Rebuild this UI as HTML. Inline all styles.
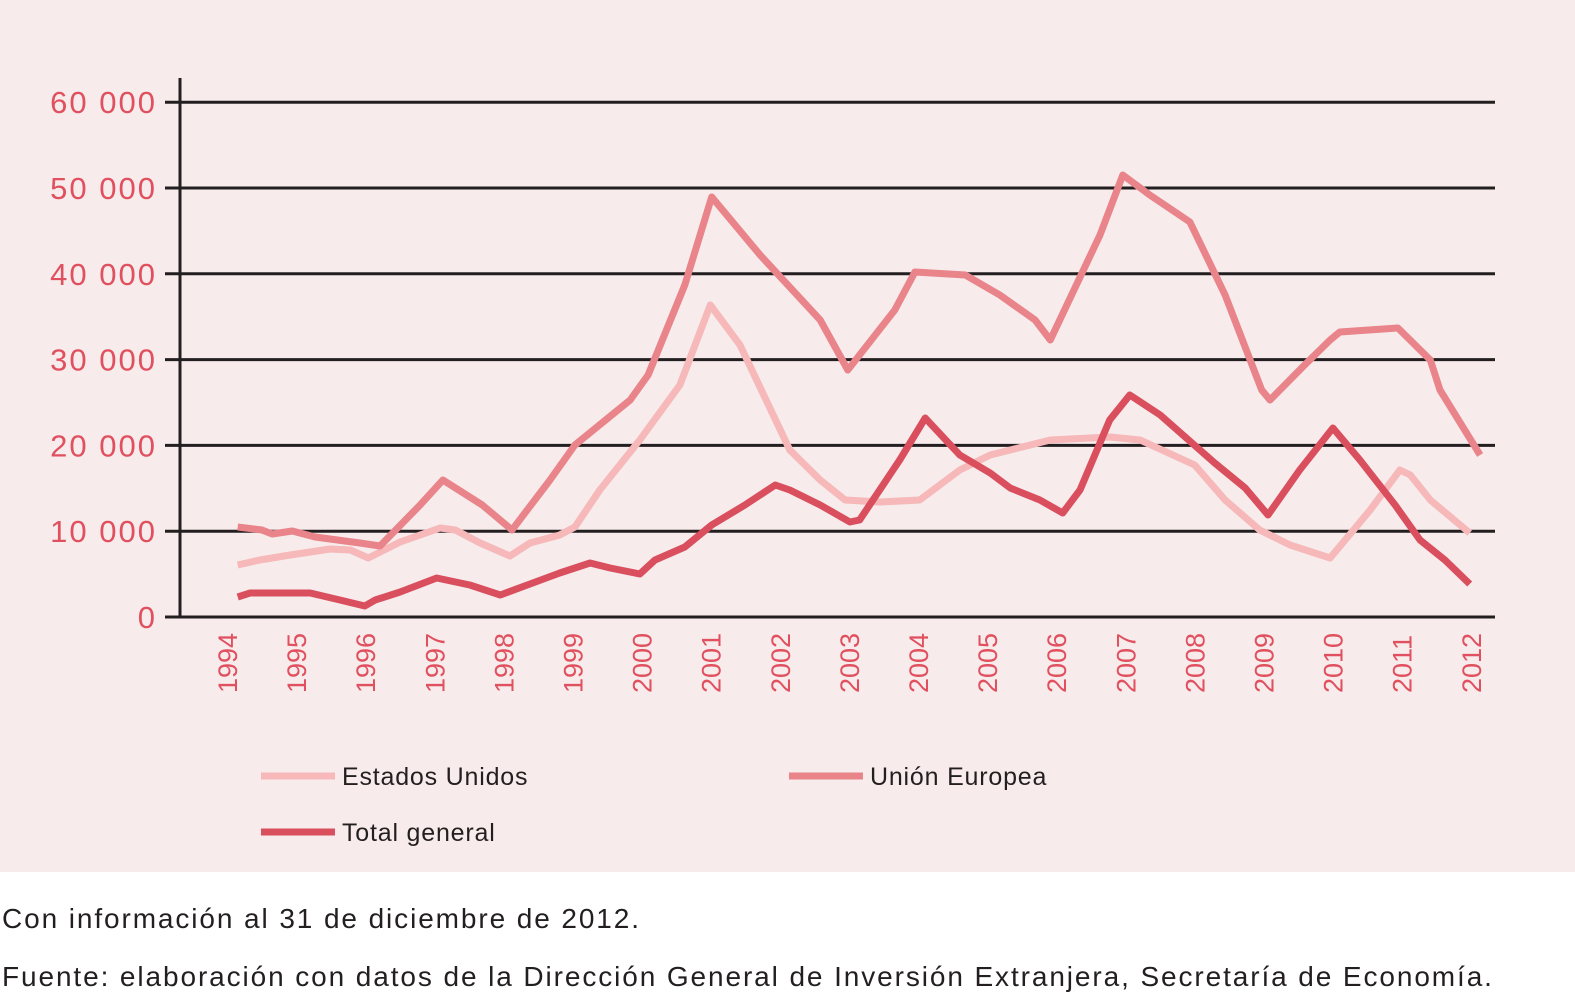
<!DOCTYPE html>
<html><head><meta charset="utf-8">
<style>
html,body{margin:0;padding:0;width:1575px;height:1000px;background:#fff;overflow:hidden;font-family:"Liberation Sans",sans-serif}
#bg{position:absolute;left:0;top:0;width:1575px;height:872px;background:#f7ebeb}
.note{position:absolute;left:2px;font-size:28px;letter-spacing:1.9px;color:#231f20}
</style></head><body>
<div id="bg"></div>
<svg id="chart" width="1575" height="872" style="position:absolute;left:0;top:0"></svg>
<div class="note" style="top:903px">Con información al 31 de diciembre de 2012.</div>
<div class="note" style="top:961px">Fuente: elaboración con datos de la Dirección General de Inversión Extranjera, Secretaría de Economía.</div>
<script>
const years=[1994,1995,1996,1997,1998,1999,2000,2001,2002,2003,2004,2005,2006,2007,2008,2009,2010,2011,2012];
const yTicks=[0,10000,20000,30000,40000,50000,60000];
const yTickLabels=["0","10 000","20 000","30 000","40 000","50 000","60 000"];
const ueT=[1994.14,1994.49,1994.64,1994.93,1995.26,1995.91,1996.2,1996.78,1997.11,1997.68,1998.11,1998.66,1999.02,1999.82,2000.08,2000.61,2001.0,2001.7,2002.57,2002.97,2003.65,2003.94,2004.67,2005.17,2005.68,2005.9,2006.62,2006.95,2007.34,2007.92,2008.43,2008.96,2009.08,2009.58,2009.95,2010.09,2010.93,2011.4,2011.54,2012.12];
const ueV=[10490,10140,9670,10020,9320,8620,8270,13050,15970,13050,10140,15970,20050,25290,28200,38700,48950,42190,34620,28790,35780,40210,39860,37530,34620,32280,44520,51510,49180,46040,37530,26460,25290,29370,32280,33220,33680,29950,26460,18880];
const usT=[1994.14,1994.46,1994.9,1995.48,1995.77,1996.03,1996.49,1997.07,1997.29,1997.65,1998.08,1998.37,1998.8,1999.02,1999.38,1999.96,2000.54,2000.98,2001.41,2002.13,2002.57,2002.93,2003.44,2004.01,2004.59,2005.03,2005.9,2006.76,2007.2,2007.99,2008.43,2008.93,2009.37,2009.95,2010.53,2010.96,2011.11,2011.4,2011.97];
const usV=[6060,6640,7230,7930,7810,6880,8740,10370,10140,8620,7110,8620,9560,10490,14800,20630,27040,36360,31700,19460,15970,13640,13400,13640,17130,18880,20630,20980,20630,17720,13640,10140,8390,6880,12470,17130,16550,13640,9790];
const totT=[1994.14,1994.32,1994.9,1995.19,1995.62,1995.98,1996.13,1996.49,1997.02,1997.5,1997.94,1998.37,1998.8,1999.24,1999.53,1999.96,2000.18,2000.61,2001.0,2001.48,2001.92,2002.13,2002.57,2003.0,2003.14,2003.72,2004.09,2004.59,2005.03,2005.32,2005.75,2006.08,2006.33,2006.76,2007.05,2007.49,2008.28,2008.72,2009.05,2009.51,2009.99,2010.38,2010.89,2011.25,2011.61,2011.97];
const totV=[2330,2800,2800,2800,1980,1280,1980,2910,4550,3730,2560,3850,5130,6290,5710,5010,6640,8160,10720,13050,15380,14800,13050,11070,11300,18300,23190,18880,16780,15040,13640,12120,14800,22960,25870,23540,17950,15040,11890,17130,22030,18300,13050,8970,6640,3850];

const NS="http://www.w3.org/2000/svg";
const svg=document.getElementById('chart');
const X=t=>228+(t-1994)*69.1;
const Y=v=>617-v*0.00858;
function mk(tag,attrs,parent){const e=document.createElementNS(NS,tag);for(const k in attrs)e.setAttribute(k,attrs[k]);(parent||svg).appendChild(e);return e;}
const red="#e0505f";
yTicks.forEach((v,i)=>{
  const g=mk('line',{x1:165,x2:1495,y1:Y(v),y2:Y(v),stroke:"#231f20","stroke-width":3});
  
  
  const t=mk('text',{x:157,y:Y(v)+11,"text-anchor":"end","font-size":31,"letter-spacing":2,fill:red,"font-family":"Liberation Sans, sans-serif"});
  t.textContent=yTickLabels[i];
  
  
});
const ax=mk('line',{x1:180,x2:180,y1:78,y2:618,stroke:"#231f20","stroke-width":3});


years.forEach(yr=>{
  const t=mk('text',{transform:`translate(${X(yr)+9},${693}) rotate(-90)`,"font-size":27,fill:red,"font-family":"Liberation Sans, sans-serif"});
  t.textContent=yr;
  
  
});
function series(T,V,color,name){
  const d=T.map((t,i)=>(i?'L':'M')+X(t).toFixed(1)+','+Y(V[i]).toFixed(1)).join(' ');
  const p=mk('path',{d:d,fill:"none",stroke:color,"stroke-width":7,"stroke-linejoin":"round"});
  
  
}
series(usT,usV,"#f6b8b8","line-estados-unidos");
series(ueT,ueV,"#e9848a","line-union-europea");
series(totT,totV,"#d94f5e","line-total-general");
function legend(x,y,color,label,name){
  const g=mk('g',{});
  
  
  mk('line',{x1:x,x2:x+74,y1:y,y2:y,stroke:color,"stroke-width":7},g);
  const t=mk('text',{x:x+81,y:y+9,"font-size":25,"letter-spacing":0.8,fill:"#231f20","font-family":"Liberation Sans, sans-serif"},g);
  t.textContent=label;
}
legend(261,776,"#f6b8b8","Estados Unidos","legend-estados-unidos");
legend(789,776,"#e9848a","Unión Europea","legend-union-europea");
legend(261,832,"#d94f5e","Total general","legend-total-general");
</script>
</body></html>
